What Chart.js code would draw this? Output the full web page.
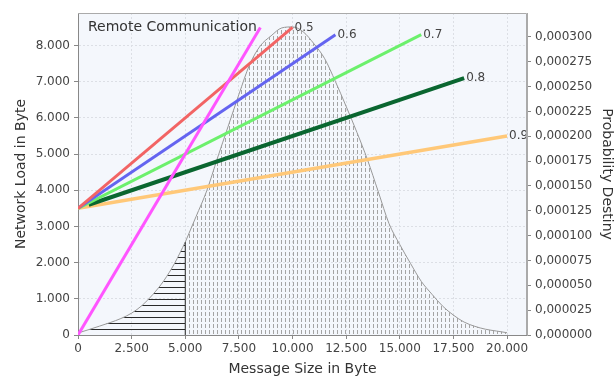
<!DOCTYPE html>
<html lang="de">
<head>
<meta charset="UTF-8">
<title>Remote Communication</title>
<script src="https://cdn.jsdelivr.net/npm/chart.js"></script>
<style>
  html, body { margin: 0; padding: 0; background: #fff; }
</style>
</head>
<body>
<canvas id="chart" width="616" height="378"></canvas>
<script>
  // message size distribution (x in byte, probability density)
  const sizeX = [0, 500, 1000, 1500, 2000, 2500, 3000, 3500, 4000, 4500, 5000,
    5500, 6000, 6500, 7000, 7500, 8000, 8500, 9000, 9500, 10000,
    10500, 11000, 11500, 12000, 12500, 13000, 13500, 14000, 14500, 15000,
    15500, 16000, 16500, 17000, 17500, 18000, 18500, 19000, 19500, 20000];
  const density = [0.000002, 0.0000054, 0.0000089, 0.0000125, 0.0000166, 0.000022, 0.000030, 0.000041, 0.0000546, 0.000072, 0.0000934,
    0.000119, 0.000145, 0.000178, 0.000210, 0.000242, 0.000272, 0.000291, 0.000301, 0.000309, 0.000310,
    0.000305, 0.000293, 0.000278, 0.000255, 0.000230, 0.000204, 0.000176, 0.000144, 0.000112, 0.000091,
    0.000072, 0.000054, 0.000041, 0.000029, 0.000020, 0.000013, 0.0000087, 0.0000058, 0.000004, 0.0000023];
  const splitSize = 5000;

  // network load lines
  const loadLabels = ['', '0.5', '0.6', '0.7', '0.8', '0.9'];
  const startX = [0, 0, 0, 0, 500, 0];
  const startY = [0, 3500, 3500, 3500, 3600, 3500];
  const endX = [8500, 10000, 12000, 16000, 18000, 20000];
  const endY = [8500, 8500, 8300, 8300, 7100, 5500];

  // axis ticks
  const xTicks = [0, 2500, 5000, 7500, 10000, 12500, 15000, 17500, 20000];
  const loadTicks = [0, 1000, 2000, 3000, 4000, 5000, 6000, 7000, 8000];
  const densityTicks = [0, 0.000025, 0.00005, 0.000075, 0.0001, 0.000125, 0.00015,
    0.000175, 0.0002, 0.000225, 0.00025, 0.000275, 0.0003];

  const lineColors = ['#ff55ff', '#f26464', '#6464f0', '#6cf06c', '#0a6630', '#ffc878'];
  const lineWidths = [3, 3, 3, 3, 4, 3.5];

  const fontFamily = '"DejaVu Sans", sans-serif';
  const thousands = v => String(Math.round(v)).replace(/\B(?=(\d{3})+(?!\d))/g, '.');
  const useTicks = values => scale => { scale.ticks = values.map(v => ({ value: v })); };

  const canvas = document.getElementById('chart');
  const ctx = canvas.getContext('2d');

  function makePattern(w, h, draw) {
    const c = document.createElement('canvas');
    c.width = w;
    c.height = h;
    draw(c.getContext('2d'));
    return ctx.createPattern(c, 'repeat');
  }
  const hatch = makePattern(6, 6, g => { g.fillStyle = '#2a2a2a'; g.fillRect(0, 5, 6, 1); });
  const dots = makePattern(4, 6, g => { g.fillStyle = '#a4a4a4'; g.fillRect(1, 0, 1, 4); });

  const points = sizeX.map((x, i) => ({ x: x, y: density[i] }));
  const leftPart = points.filter(p => p.x <= splitSize);
  const rightPart = points.filter(p => p.x >= splitSize);
  const splitValue = density[sizeX.indexOf(splitSize)];

  const datasets = loadLabels.map((label, i) => ({
    label: label || 'load',
    data: [{ x: startX[i], y: startY[i] }, { x: endX[i], y: endY[i] }],
    borderColor: lineColors[i],
    borderWidth: lineWidths[i],
    pointRadius: 0,
    fill: false,
    yAxisID: 'y',
    order: 0
  }));
  datasets.push({
    label: 'edge',
    data: [{ x: splitSize, y: 0 }, { x: splitSize, y: splitValue }],
    borderColor: '#2a2a2a',
    borderWidth: 1,
    pointRadius: 0,
    fill: false,
    yAxisID: 'y2',
    order: 1
  });
  datasets.push({
    label: 'local',
    data: leftPart,
    borderColor: '#999',
    borderWidth: 1,
    backgroundColor: hatch,
    pointRadius: 0,
    cubicInterpolationMode: 'monotone',
    fill: 'origin',
    yAxisID: 'y2',
    order: 2
  });
  datasets.push({
    label: 'remote',
    data: rightPart,
    borderColor: '#999',
    borderWidth: 1,
    backgroundColor: dots,
    pointRadius: 0,
    cubicInterpolationMode: 'monotone',
    fill: 'origin',
    yAxisID: 'y2',
    order: 3
  });

  const plotDecor = {
    id: 'plotDecor',
    beforeDraw(chart) {
      const { ctx, chartArea: a } = chart;
      ctx.save();
      ctx.fillStyle = '#fff';
      ctx.fillRect(0, 0, chart.width, chart.height);
      ctx.fillStyle = '#f4f7fc';
      ctx.fillRect(a.left, a.top, a.right - a.left, a.bottom - a.top);
      ctx.restore();
    },
    afterDatasetsDraw(chart) {
      const { ctx, chartArea: a, scales } = chart;
      ctx.save();
      ctx.beginPath();
      ctx.rect(a.left, a.top, a.right - a.left, a.bottom - a.top);
      ctx.clip();
      ctx.fillStyle = '#444';
      ctx.font = '12px ' + fontFamily;
      ctx.textBaseline = 'middle';
      loadLabels.forEach((t, i) => {
        if (!t) return;
        ctx.fillText(t, scales.x.getPixelForValue(endX[i]) + 2, scales.y.getPixelForValue(endY[i]));
      });
      ctx.font = '14px ' + fontFamily;
      ctx.textBaseline = 'alphabetic';
      ctx.fillStyle = '#333';
      ctx.fillText('Remote Communication', a.left + 10, a.top + 18);
      ctx.restore();

      // top and right frame of the plot
      ctx.save();
      ctx.strokeStyle = '#aaa';
      ctx.lineWidth = 1;
      ctx.beginPath();
      ctx.moveTo(a.left, a.top + 0.5);
      ctx.lineTo(a.right - 0.5, a.top + 0.5);
      ctx.lineTo(a.right - 0.5, a.bottom);
      ctx.stroke();
      ctx.restore();
    }
  };

  const tickFont = { family: fontFamily, size: 12 };
  const titleFont = { family: fontFamily, size: 14 };

  new Chart(ctx, {
    type: 'line',
    data: { datasets: datasets },
    options: {
      responsive: false,
      animation: false,
      layout: { padding: { top: 13 } },
      plugins: {
        legend: { display: false },
        tooltip: { enabled: false }
      },
      scales: {
        x: {
          type: 'linear',
          min: 0,
          max: 20930,
          afterFit(s) { s.height = 43; },
          afterBuildTicks: useTicks(xTicks),
          ticks: {
            autoSkip: false,
            maxRotation: 0,
            padding: 3,
            color: '#444',
            font: tickFont,
            callback: v => thousands(v)
          },
          grid: { color: '#dcdfe5', tickColor: '#888', tickLength: 4, tickBorderDash: [] },
          border: { color: '#888', dash: [2, 2] },
          title: { display: true, text: 'Message Size in Byte', color: '#333', font: titleFont, padding: 0 }
        },
        y: {
          position: 'left',
          min: 0,
          max: 8900,
          afterFit(s) { s.width = 78; },
          afterBuildTicks: useTicks(loadTicks),
          ticks: {
            padding: 4,
            color: '#444',
            font: tickFont,
            callback: v => thousands(v)
          },
          grid: { color: '#dcdfe5', tickColor: '#888', tickLength: 4, tickBorderDash: [] },
          border: { color: '#888', dash: [2, 2] },
          title: { display: true, text: 'Network Load in Byte', color: '#333', font: titleFont, padding: { top: 13 } }
        },
        y2: {
          position: 'right',
          min: 0,
          max: 0.000324,
          afterFit(s) { s.width = 89; },
          afterBuildTicks: useTicks(densityTicks),
          ticks: {
            padding: 4,
            color: '#444',
            font: tickFont,
            callback: v => v.toFixed(6).replace('.', ',')
          },
          grid: { drawOnChartArea: false, tickColor: '#888', tickLength: 4 },
          border: { color: '#aaa' },
          title: { display: true, text: 'Probability Destiny', color: '#333', font: titleFont, padding: { top: 1 } }
        }
      }
    },
    plugins: [plotDecor]
  });
</script>
</body>
</html>
